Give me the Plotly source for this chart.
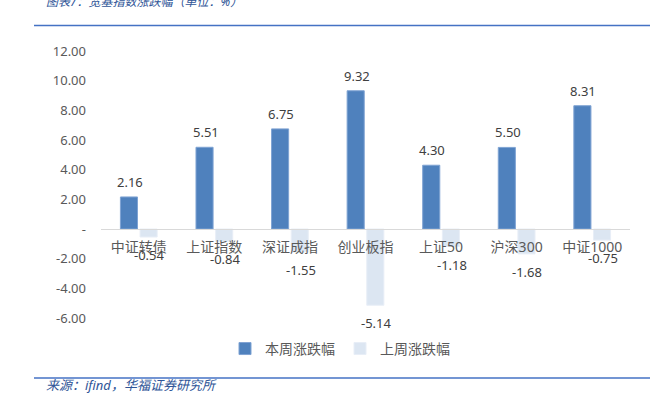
import plotly.graph_objects as go

categories = ["中证转债", "上证指数", "深证成指", "创业板指", "上证50", "沪深300", "中证1000"]
this_week = [2.16, 5.51, 6.75, 9.32, 4.30, 5.50, 8.31]
last_week = [-0.54, -0.84, -1.55, -5.14, -1.18, -1.68, -0.75]
series_names = ["本周涨跌幅", "上周涨跌幅"]
y_ticks = [-6, -4, -2, 0, 2, 4, 6, 8, 10, 12]
y_ticktext = ["-6.00", "-4.00", "-2.00", "-", "2.00", "4.00", "6.00", "8.00", "10.00", "12.00"]
title_text = "图表7：宽基指数涨跌幅（单位：%）"
source_text = "来源：ifind，华福证券研究所"

W, H = 650, 393
ML, MR, MT, MB = 101, 20, 50.5, 75
PW, PH = W - ML - MR, H - MT - MB

def px_x(x):
    return (x - ML) / PW

def px_y(y):
    return (H - MB - y) / PH

FONT = "Noto Sans, Noto Sans CJK SC, sans-serif"
BARGAP, GROUPGAP = 0.48, 0.13
# horizontal offset (px) of each bar centre from its category centre
slot = PW / len(categories) * (1 - BARGAP) / 2

fig = go.Figure()
fig.add_trace(go.Bar(
    x=categories, y=this_week, name=series_names[0],
    marker=dict(color="#4F81BD", line=dict(color="#7FA3D3", width=1)),
))
fig.add_trace(go.Bar(
    x=categories, y=last_week, name=series_names[1],
    marker=dict(color="#DCE6F2", line=dict(color="#E8EEF7", width=1)),
))

for c, v in zip(categories, this_week):
    fig.add_annotation(x=c, y=v, text=f"{v:.2f}", showarrow=False, xshift=-slot / 2 + 1,
                       yshift=15, yanchor="middle", xanchor="center",
                       font=dict(color="#404040", size=13, family=FONT))
for c, v in zip(categories, last_week):
    fig.add_annotation(x=c, y=v, text=f"{v:.2f}", showarrow=False, xshift=slot / 2 + 1,
                       yshift=-18, yanchor="middle", xanchor="center",
                       font=dict(color="#404040", size=13, family=FONT))

fig.update_layout(
    width=W, height=H,
    margin=dict(l=ML, r=MR, t=MT, b=MB),
    paper_bgcolor="white", plot_bgcolor="white",
    barmode="group", bargap=BARGAP, bargroupgap=GROUPGAP,
    font=dict(family=FONT, color="#595959", size=13),
    showlegend=True,
    legend=dict(orientation="h", x=px_x(340), y=px_y(349), xanchor="center", yanchor="middle",
                font=dict(size=14, color="#595959", family=FONT), itemwidth=30),
    xaxis=dict(anchor="free", position=6 / 18, showline=True, linecolor="#D9D9D9", linewidth=1,
               ticks="outside", ticklen=5, tickcolor="rgba(0,0,0,0)",
               tickfont=dict(size=14, color="#595959", family=FONT), showgrid=False),
    yaxis=dict(range=[-6, 12], tickvals=y_ticks, ticktext=y_ticktext, showgrid=False,
               zeroline=False, showline=False, ticks="", ticklabelstandoff=14,
               tickfont=dict(size=13, color="#595959", family=FONT)),
)

fig.add_shape(type="line", xref="paper", yref="paper", x0=px_x(34), x1=px_x(650),
              y0=px_y(25), y1=px_y(25), line=dict(color="#4472C4", width=1.5))
fig.add_shape(type="line", xref="paper", yref="paper", x0=px_x(34), x1=px_x(650),
              y0=px_y(378), y1=px_y(378), line=dict(color="#4472C4", width=1.5))

fig.add_annotation(text="<i>" + title_text + "</i>", xref="paper", yref="paper",
                   x=px_x(44), y=px_y(1), xanchor="left", yanchor="middle", showarrow=False,
                   font=dict(size=12, color="#2F5597", family=FONT))
fig.add_annotation(text="<i>" + source_text + "</i>", xref="paper", yref="paper",
                   x=px_x(44), y=px_y(385), xanchor="left", yanchor="middle", showarrow=False,
                   font=dict(size=13, color="#2F5597", family=FONT))

fig.write_html("out.html", config={"displayModeBar": False},
               post_script="document.body.style.margin='0';document.body.style.overflow='hidden';")
